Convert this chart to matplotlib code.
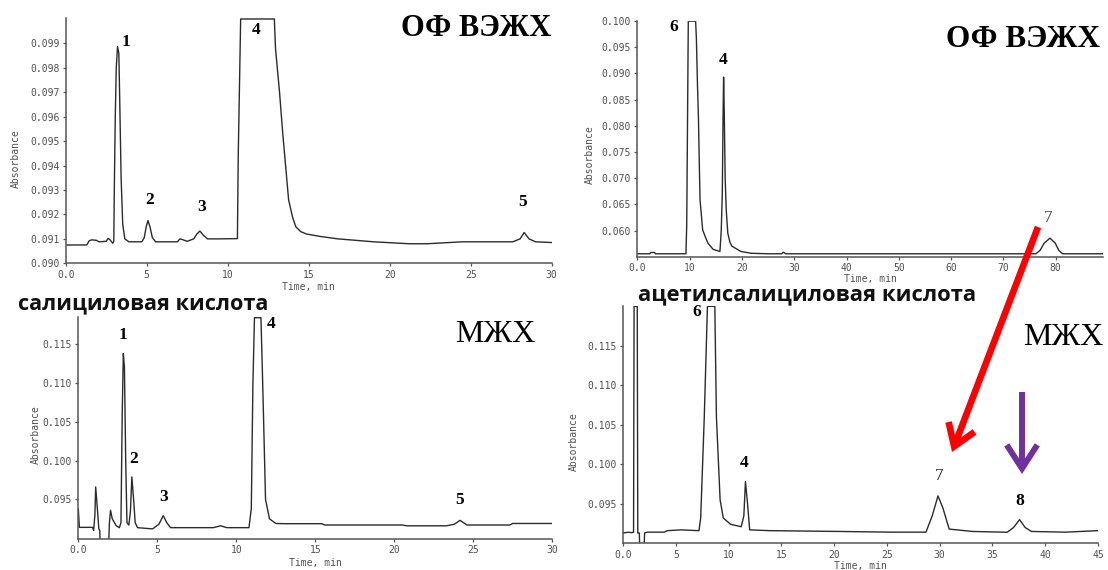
import matplotlib
matplotlib.use("Agg")
import matplotlib.pyplot as plt
from matplotlib.patches import FancyArrowPatch

# --- chromatogram traces (time, min / absorbance) ---
# top-left: salicylic acid, RP-HPLC
t1 = [0, 1.30, 1.45, 1.60, 1.90, 2.05, 2.50, 2.62, 2.75, 2.90, 2.97, 3.00, 3.06, 3.12,
      3.20, 3.28, 3.34, 3.42, 3.52, 3.65, 3.90, 4.70, 4.85, 4.97, 5.08, 5.20, 5.35,
      5.55, 6.90, 7.05, 7.25, 7.50, 7.90, 8.10, 8.28, 8.50, 8.75, 9.50, 10.60, 10.65,
      10.80, 12.88, 12.95, 13.20, 13.40, 13.60, 13.76, 14.00, 14.20, 14.50, 14.86,
      15.70, 16.80, 19.00, 21.20, 22.30, 24.50, 27.60, 28.05, 28.30, 28.60, 29.00, 30.00]
a1 = [0.09075, 0.09075, 0.09092, 0.09096, 0.09094, 0.09088, 0.09090, 0.09102, 0.09095,
      0.09082, 0.09090, 0.09300, 0.09600, 0.09800, 0.09887, 0.09860, 0.09650, 0.09350,
      0.09160, 0.09100, 0.09088, 0.09088, 0.09105, 0.09150, 0.09175, 0.09150, 0.09105,
      0.09088, 0.09088, 0.09100, 0.09096, 0.09090, 0.09100, 0.09120, 0.09132, 0.09115,
      0.09100, 0.09100, 0.09101, 0.09440, 0.10000, 0.10000, 0.09880, 0.09700, 0.09530,
      0.09380, 0.09260, 0.09190, 0.09150, 0.09130, 0.09120, 0.09110, 0.09100, 0.09088,
      0.09080, 0.09080, 0.09088, 0.09088, 0.09100, 0.09126, 0.09100, 0.09088, 0.09085]

# top-right: acetylsalicylic acid, RP-HPLC
t2 = [0, 2.40, 2.55, 3.30, 3.45, 9.30, 9.45, 9.75, 11.15, 11.30, 11.50, 11.70, 11.85,
      12.00, 12.50, 13.00, 13.50, 14.50, 15.80, 16.05, 16.25, 16.40, 16.50, 16.62,
      16.80, 17.00, 17.30, 17.70, 18.10, 19.80, 21.80, 25.00, 27.60, 27.90, 28.40,
      76.20, 77.00, 77.80, 78.90, 79.90, 80.60, 81.30, 89.00]
a2 = [0.05556, 0.05556, 0.05580, 0.05580, 0.05556, 0.05556, 0.06110, 0.10000, 0.10000,
      0.09660, 0.08800, 0.08110, 0.07300, 0.06580, 0.06010, 0.05880, 0.05760, 0.05640,
      0.05600, 0.06000, 0.06710, 0.08200, 0.08930, 0.08300, 0.07000, 0.06400, 0.05950,
      0.05780, 0.05700, 0.05600, 0.05565, 0.05556, 0.05556, 0.05585, 0.05556, 0.05556,
      0.05620, 0.05760, 0.05854, 0.05760, 0.05620, 0.05556, 0.05556]

# bottom-left: salicylic acid, micellar LC
t3 = [0, 0.07, 0.90, 0.97, 1.05, 1.10, 1.20, 1.30, 1.36, 1.40, 1.90, 1.97, 2.04, 2.15,
      2.40, 2.60, 2.70, 2.78, 2.85, 2.92, 3.00, 3.08, 3.20, 3.30, 3.39, 3.50, 3.60,
      3.75, 4.70, 5.10, 5.38, 5.60, 5.84, 8.55, 9.00, 9.40, 10.80, 10.95, 11.05, 11.15,
      11.56, 11.67, 11.85, 12.10, 12.50, 13.10, 15.40, 15.60, 17.60, 20.50, 20.80,
      23.30, 23.80, 24.16, 24.60, 27.30, 27.50, 30.00]
a3 = [0.0938, 0.0914, 0.0914, 0.0910, 0.0930, 0.0966, 0.0940, 0.0912, 0.0910, 0.0880,
      0.0880, 0.0920, 0.0936, 0.0925, 0.0916, 0.09136, 0.0920, 0.1060, 0.1138, 0.1120,
      0.1000, 0.0920, 0.0917, 0.0935, 0.0979, 0.0950, 0.0920, 0.09136, 0.0912, 0.0918,
      0.0929, 0.0920, 0.09136, 0.09136, 0.0916, 0.09136, 0.09136, 0.0938, 0.1098, 0.1184,
      0.1184, 0.1100, 0.0950, 0.0925, 0.0919, 0.09187, 0.09187, 0.0917, 0.0917, 0.0917,
      0.0916, 0.0916, 0.0918, 0.0923, 0.0917, 0.0917, 0.0919, 0.0919]

# bottom-right: acetylsalicylic acid, micellar LC
t4 = [0, 0.50, 0.80, 1.00, 1.05, 1.35, 1.40, 1.55, 1.60, 1.95, 2.05, 2.30, 3.90, 4.20,
      5.50, 7.20, 7.36, 7.70, 8.00, 8.70, 8.85, 9.20, 9.50, 10.20, 11.20, 11.45, 11.60,
      11.80, 12.00, 13.90, 20.50, 25.40, 28.70, 29.30, 29.84, 30.30, 30.90, 33.10,
      36.40, 37.00, 37.57, 38.10, 38.70, 41.90, 45.00]
a4 = [0.0913, 0.0914, 0.09135, 0.0914, 0.1200, 0.1200, 0.0913, 0.0913, 0.0880, 0.0880,
      0.0913, 0.09141, 0.09141, 0.0916, 0.0917, 0.0916, 0.0932, 0.1060, 0.1200, 0.1200,
      0.1060, 0.0955, 0.0932, 0.0924, 0.0921, 0.0935, 0.0978, 0.0950, 0.0917, 0.0916,
      0.0915, 0.09141, 0.09141, 0.0935, 0.0960, 0.0945, 0.0918, 0.0915, 0.0914, 0.0920,
      0.0930, 0.0920, 0.0915, 0.09141, 0.0916]

# axis ticks and labels
xt_30 = [0, 5, 10, 15, 20, 25, 30]
xl_30 = ["0.0", "5", "10", "15", "20", "25", "30"]
xt_80 = [0, 10, 20, 30, 40, 50, 60, 70, 80]
xl_80 = ["0.0", "10", "20", "30", "40", "50", "60", "70", "80"]
xt_45 = [0, 5, 10, 15, 20, 25, 30, 35, 40, 45]
xl_45 = ["0.0", "5", "10", "15", "20", "25", "30", "35", "40", "45"]
yt_1 = [0.090, 0.091, 0.092, 0.093, 0.094, 0.095, 0.096, 0.097, 0.098, 0.099]
yl_1 = ["0.090", "0.091", "0.092", "0.093", "0.094", "0.095", "0.096", "0.097", "0.098", "0.099"]
yt_2 = [0.060, 0.065, 0.070, 0.075, 0.080, 0.085, 0.090, 0.095, 0.100]
yl_2 = ["0.060", "0.065", "0.070", "0.075", "0.080", "0.085", "0.090", "0.095", "0.100"]
yt_3 = [0.095, 0.100, 0.105, 0.110, 0.115]
yl_3 = ["0.095", "0.100", "0.105", "0.110", "0.115"]

# peak numbers: (label, time, absorbance)
peaks1 = [("1", 3.74, 0.09907), ("2", 5.17, 0.09259), ("3", 8.41, 0.09229),
          ("4", 11.73, 0.09955), ("5", 28.22, 0.09252)]
peaks2 = [("6", 7.04, 0.09886), ("4", 16.47, 0.09251)]
peaks3 = [("1", 2.83, 0.11611), ("2", 3.53, 0.10018), ("3", 5.38, 0.09534),
          ("4", 12.22, 0.11761), ("5", 24.12, 0.09491)]
peaks4 = [("6", 7.03, 0.11930), ("4", 11.44, 0.10015), ("8", 37.57, 0.09538)]

W, H = 1108, 570
fig = plt.figure(figsize=(W / 100, H / 100), dpi=100)

MONO = "DejaVu Sans Mono"
SERIF = "Liberation Serif"
SANS = "Open Sans"
GRAY = "#505050"
TRACE = "#2b2b2b"


def fx(x):
    return x / W


def fy(y):
    return 1 - y / H


def panel(left, right, top, bottom, t, a, xlim, ylim, xt, xl, yt, yl):
    ax = fig.add_axes([fx(left), fy(bottom), (right - left) / W, (bottom - top) / H])
    ax.plot(t, a, color=TRACE, lw=1.0)
    ax.set_xlim(*xlim)
    ax.set_ylim(*ylim)
    ax.set_xticks(xt)
    ax.set_xticklabels(xl)
    ax.set_yticks(yt)
    ax.set_yticklabels(yl)
    for s in ("top", "right"):
        ax.spines[s].set_visible(False)
    for s in ("left", "bottom"):
        ax.spines[s].set_color("#555555")
        ax.spines[s].set_linewidth(1.1)
    ax.tick_params(length=2.5, width=0.9, color="#555555", pad=2,
                   labelsize=7, labelcolor=GRAY)
    for lab in ax.get_xticklabels() + ax.get_yticklabels():
        lab.set_family(MONO)
    return ax


def peak_labels(ax, peaks, size=12.5):
    for lab, x, y in peaks:
        ax.text(x, y, lab, ha="center", va="center", fontsize=size,
                family=SERIF, weight="bold", color="black")


ax1 = panel(65.7, 551.7, 18, 263.3, t1, a1, (0, 30), (0.0900, 0.10004),
            xt_30, xl_30, yt_1, yl_1)
peak_labels(ax1, peaks1)

ax2 = panel(637.3, 1102.8, 20.7, 256.7, t2, a2, (0, 89), (0.0550, 0.10008),
            xt_80, xl_80, yt_2, yl_2)
peak_labels(ax2, peaks2)
ax2.text(78.55, 0.06235, "7", ha="center", va="center", fontsize=12.5,
         family=SERIF, color="#444444")

ax3 = panel(78.3, 552.3, 317.3, 539, t3, a3, (0, 30), (0.0899, 0.11845),
            xt_30, xl_30, yt_3, yl_3)
peak_labels(ax3, peaks3)

ax4 = panel(623, 1098, 305.7, 543.3, t4, a4, (0, 45), (0.0900, 0.12008),
            xt_45, xl_45, yt_3, yl_3)
peak_labels(ax4, peaks4)
ax4.text(29.91, 0.09846, "7", ha="center", va="center", fontsize=12.5,
         family=SERIF, color="#222222")

# axis titles
for x, y in [(16, 159), (589.6, 155), (35.6, 435), (574, 442)]:
    fig.text(fx(x), fy(y), "Absorbance", rotation=90, ha="center", va="center",
             fontsize=7, family=MONO, color=GRAY)
for x, y in [(308.7, 287), (870, 279), (315, 563), (860, 566)]:
    fig.text(fx(x), fy(y), "Time, min", ha="center", va="center",
             fontsize=7, family=MONO, color=GRAY)

# method captions
fig.text(fx(401), fy(36), "ОФ ВЭЖХ", ha="left", va="baseline", fontsize=22,
         family=SERIF, weight="bold")
fig.text(fx(946), fy(47), "ОФ ВЭЖХ", ha="left", va="baseline", fontsize=22.5,
         family=SERIF, weight="bold")
fig.text(fx(455), fy(342.5), "МЖХ", ha="left", va="baseline", fontsize=23,
         family=SERIF)
fig.text(fx(1023), fy(345), "МЖХ", ha="left", va="baseline", fontsize=23,
         family=SERIF)

# compound names
fig.text(fx(18), fy(309.5), "салициловая кислота", ha="left", va="baseline",
         fontsize=15.6, family=SANS, weight="bold", color="#111111")
fig.text(fx(638), fy(300), "ацетилсалициловая кислота", ha="left", va="baseline",
         fontsize=15.8, family=SANS, weight="bold", color="#111111", zorder=5)

# arrows
red = FancyArrowPatch((fx(1038), fy(227)), (fx(952), fy(452)),
                      transform=fig.transFigure, arrowstyle="->,head_length=15,head_width=10",
                      mutation_scale=1, color="#ff0000", lw=4.8,
                      shrinkA=0, shrinkB=0, capstyle="butt", joinstyle="miter")
fig.add_artist(red)
purple = FancyArrowPatch((fx(1022), fy(392)), (fx(1022), fy(474)),
                         transform=fig.transFigure, arrowstyle="->,head_length=17,head_width=11",
                         mutation_scale=1, color="#7030a0", lw=4.3,
                         shrinkA=0, shrinkB=0, capstyle="butt", joinstyle="miter")
fig.add_artist(purple)

fig.savefig("out.png", dpi=100)
